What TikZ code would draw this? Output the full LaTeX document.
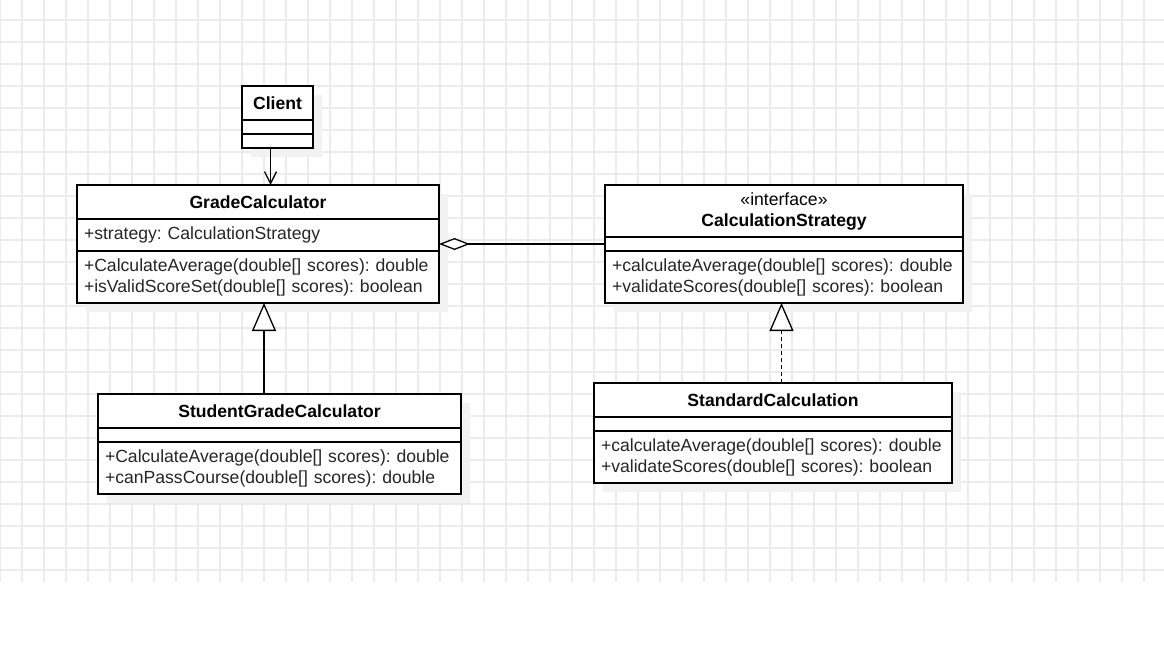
\documentclass[tikz,border=0pt]{standalone}
\usepackage{fontspec}
\setmainfont{Liberation Sans}
\usetikzlibrary{positioning,arrows.meta,shadows}

\newcommand{\umlfont}{\fontsize{17.6}{21}\selectfont\frenchspacing}

\tikzset{
  gridline/.style={line width=1.5pt, black!8},
  frame/.style={draw, line width=1.3pt, fill=white, inner sep=0pt, outer sep=0pt,
    drop shadow={shadow xshift=9pt, shadow yshift=-9pt, opacity=1, fill=black!5}},
  head/.style={draw, line width=1.3pt, inner sep=0pt, outer sep=0pt, align=center,
    font=\umlfont\bfseries},
  body/.style={draw, line width=1.3pt, inner xsep=7pt, inner ysep=0pt, outer sep=0pt,
    align=left, text=black!85, font=\umlfont},
  assoc/.style={line width=1.3pt, -{Straight Barb[length=12pt,width=12pt]}},
  aggr/.style={line width=1.3pt, {Diamond[open,fill=white,length=31pt,width=12pt]}-},
  inherit/.style={line width=1.3pt, -{Triangle[open,fill=white,length=28pt,width=24pt]}},
  realize/.style={inherit, dash pattern=on 4pt off 3pt},
}

\begin{document}
\begin{tikzpicture}[x=1pt, y=-1pt]
    \useasboundingbox (0,0) rectangle (1164,648);
    % Grid
    \foreach \x in {0,22,...,1164} \draw[gridline] (\x,0) -- (\x,582);
    \foreach \y in {20,42,...,570} \draw[gridline] (0,\y) -- (1164,\y);
    % Client
    \node[frame, minimum width=71pt, minimum height=62pt] (client) at (277.5,117) {};
    \node[head, minimum width=71pt, minimum height=34pt, below=0pt of client.north] (clientT) {Client};
    \node[body, text width=57pt, minimum height=14pt, below=0pt of clientT] (clientA) {};
    \node[body, text width=57pt, minimum height=14pt, below=0pt of clientA] (clientM) {};
    % GradeCalculator
    \node[frame, minimum width=362pt, minimum height=118pt] (grade) at (258,244) {};
    \node[head, minimum width=362pt, minimum height=34pt, below=0pt of grade.north] (gradeT) {GradeCalculator};
    \node[body, text width=348pt, minimum height=32pt, below=0pt of gradeT] (gradeA) {+strategy: CalculationStrategy};
    \node[body, text width=348pt, minimum height=52pt, below=0pt of gradeA] (gradeM)
      {+CalculateAverage(double[] scores): double\\+isValidScoreSet(double[] scores): boolean};
    % CalculationStrategy
    \node[frame, minimum width=358pt, minimum height=118pt] (strategy) at (784,244) {};
    \node[head, minimum width=358pt, minimum height=52pt, below=0pt of strategy.north] (strategyT)
      {{\mdseries «interface»}\\CalculationStrategy};
    \node[body, text width=344pt, minimum height=14pt, below=0pt of strategyT] (strategyA) {};
    \node[body, text width=344pt, minimum height=52pt, below=0pt of strategyA] (strategyM)
      {+calculateAverage(double[] scores): double\\+validateScores(double[] scores): boolean};
    % StudentGradeCalculator
    \node[frame, minimum width=363pt, minimum height=100pt] (student) at (279.5,444) {};
    \node[head, minimum width=363pt, minimum height=34pt, below=0pt of student.north] (studentT) {StudentGradeCalculator};
    \node[body, text width=349pt, minimum height=14pt, below=0pt of studentT] (studentA) {};
    \node[body, text width=349pt, minimum height=52pt, below=0pt of studentA] (studentM)
      {+CalculateAverage(double[] scores): double\\+canPassCourse(double[] scores): double};
    % StandardCalculation
    \node[frame, minimum width=358pt, minimum height=100pt] (standard) at (773,433) {};
    \node[head, minimum width=358pt, minimum height=34pt, below=0pt of standard.north] (standardT) {StandardCalculation};
    \node[body, text width=344pt, minimum height=14pt, below=0pt of standardT] (standardA) {};
    \node[body, text width=344pt, minimum height=52pt, below=0pt of standardA] (standardM)
      {+calculateAverage(double[] scores): double\\+validateScores(double[] scores): boolean};
    % Links
    \draw[assoc] ([xshift=-7pt]client.south) -- ([xshift=-7pt]client.south |- grade.north);
    \draw[aggr] (grade.east) -- (strategy.west);
    \draw[inherit] ([xshift=-15.5pt]student.north) -- ([xshift=-15.5pt]student.north |- grade.south);
    \draw[realize] ([xshift=8.5pt]standard.north) -- ([xshift=8.5pt]standard.north |- strategy.south);
  \end{tikzpicture}
\end{document}
